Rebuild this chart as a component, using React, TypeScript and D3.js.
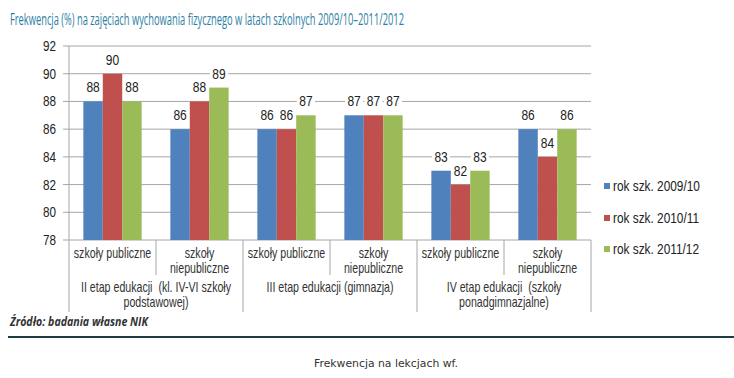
import React from "react";
import * as d3 from "d3";

const categories = [
  ["szkoły publiczne"],
  ["szkoły", "niepubliczne"],
  ["szkoły publiczne"],
  ["szkoły", "niepubliczne"],
  ["szkoły publiczne"],
  ["szkoły", "niepubliczne"],
];
const groupLabels = [
  ["II etap edukacji  (kl. IV-VI szkoły", "podstawowej)"],
  ["III etap edukacji (gimnazja)"],
  ["IV etap edukacji  (szkoły", "ponadgimnazjalne)"],
];
const seriesNames = ["rok szk. 2009/10", "rok szk. 2010/11", "rok szk. 2011/12"];
const s2009 = [88, 86, 86, 87, 83, 86];
const s2010 = [90, 88, 86, 87, 82, 84];
const s2011 = [88, 89, 87, 87, 83, 86];
const yTicks = [78, 80, 82, 84, 86, 88, 90, 92];
const colors = ["#4f81bd", "#c0504d", "#9bbb59"];

const FONT = "'Liberation Sans', Arial, sans-serif";

function NText(props: {
  x: number;
  y: number;
  sx: number;
  size: number;
  anchor?: string;
  fill?: string;
  children: React.ReactNode;
}) {
  const { x, y, sx, size, anchor = "start", fill = "#333", children } = props;
  return (
    <text
      transform={`translate(${x},${y}) scale(${sx},1)`}
      textAnchor={anchor}
      fontFamily={FONT}
      fontSize={size}
      fill={fill}
      style={{ whiteSpace: "pre" }}
    >
      {children}
    </text>
  );
}

export default function App() {
  const W = 734, H = 378;
  const x0 = 69, x1 = 591, yTop = 46, yBot = 240;
  const series = [s2009, s2010, s2011];
  const x = d3.scaleBand<number>().domain(d3.range(categories.length)).range([x0, x1]);
  const bw = x.bandwidth();
  const xs = d3.scaleBand<number>().domain([0, 1, 2]).range([bw * 0.165, bw * 0.835]);
  const y = d3.scaleLinear().domain([78, 92]).range([yBot, yTop]);
  const grid = "#a6a6a6";

  return (
    <svg width={W} height={H} style={{ position: "absolute", left: 0, top: 0, background: "#fff" }}>
      <rect width={W} height={H} fill="#fff" />
      <text x={10} y={25} fontFamily="'Open Sans', 'Noto Sans', sans-serif" fontSize={16} fill="#2b7ea6" textLength={394} lengthAdjust="spacingAndGlyphs">
        Frekwencja (%) na zajęciach wychowania fizycznego w latach szkolnych 2009/10–2011/2012
      </text>
      {yTicks.map((t) => (
        <g key={t}>
          <line x1={x0} x2={x1} y1={y(t)} y2={y(t)} stroke={grid} strokeWidth={1} />
          <line x1={x0 - 6} x2={x0} y1={y(t)} y2={y(t)} stroke={grid} strokeWidth={1} />
          <NText x={56} y={y(t) + 5} sx={0.78} size={15} anchor="end" fill="#222">
            {t}
          </NText>
        </g>
      ))}
      {series.map((s, si) =>
        s.map((v, ci) => (
          <rect
            key={`${si}-${ci}`}
            x={(x(ci) as number) + (xs(si) as number)}
            y={y(v)}
            width={xs.bandwidth()}
            height={yBot - y(v)}
            fill={colors[si]}
          />
        ))
      )}
      {series.map((s, si) =>
        s.map((v, ci) => {
          const cx = (x(ci) as number) + (xs(si) as number) + xs.bandwidth() / 2;
          const cy = y(v) - 14;
          return (
            <g key={`l-${si}-${ci}`}>
              <rect x={cx - 9} y={cy - 8} width={18} height={16} fill="#fff" />
              <NText x={cx} y={cy + 5} sx={0.8} size={15} anchor="middle" fill="#222">
                {v}
              </NText>
            </g>
          );
        })
      )}
      <line x1={x0} x2={x0} y1={yTop} y2={312} stroke={grid} />
      {categories.map((c, ci) => {
        const cx = (x(ci) as number) + bw / 2;
        return (
          <g key={`c-${ci}`}>
            {c.map((line, li) => (
              <NText key={li} x={cx} y={258 + li * 15} sx={0.76} size={14} anchor="middle" fill="#333">
                {line}
              </NText>
            ))}
            {ci % 2 === 1 && (
              <line x1={x(ci) as number} x2={x(ci) as number} y1={yBot} y2={275} stroke={grid} />
            )}
          </g>
        );
      })}
      {groupLabels.map((g, gi) => {
        const gx0 = x(gi * 2) as number;
        const gx1 = gx0 + bw * 2;
        return (
          <g key={`g-${gi}`}>
            {g.map((line, li) => (
              <NText key={li} x={(gx0 + gx1) / 2} y={292 + li * 15} sx={0.76} size={14} anchor="middle" fill="#333">
                {line}
              </NText>
            ))}
            <line x1={gx1} x2={gx1} y1={yBot} y2={312} stroke={grid} />
          </g>
        );
      })}
      {seriesNames.map((n, i) => {
        const cy = [186, 218, 249][i];
        return (
          <g key={n}>
            <rect x={604} y={cy - 3} width={6} height={6} fill={colors[i]} />
            <NText x={613} y={cy + 5} sx={0.79} size={15} fill="#222">
              {n}
            </NText>
          </g>
        );
      })}
      <text x={10} y={326} fontFamily="'Open Sans', 'Noto Sans', sans-serif" fontStyle="italic" fontWeight="bold" fontSize={12} fill="#333" textLength={138} lengthAdjust="spacingAndGlyphs">
        Źródło: badania własne NIK
      </text>
      <line x1={8} x2={734} y1={337} y2={337} stroke="#1f3a40" strokeWidth={2} />
      <text x={386} y={367} textAnchor="middle" fontFamily="'DejaVu Sans', sans-serif" fontSize={11} fill="#333" textLength={144} lengthAdjust="spacingAndGlyphs">
        Frekwencja na lekcjach wf.
      </text>
    </svg>
  );
}
